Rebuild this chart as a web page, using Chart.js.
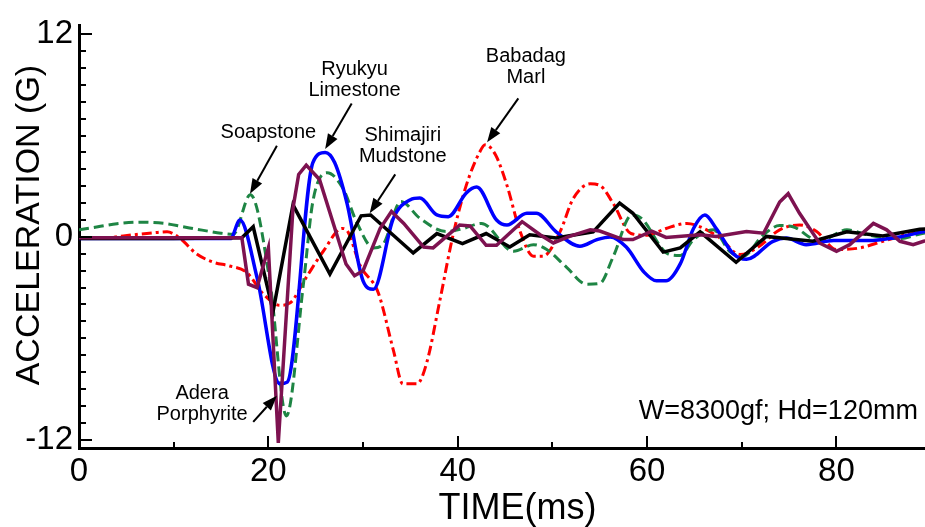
<!DOCTYPE html>
<html>
<head>
<meta charset="utf-8">
<script src="https://cdn.jsdelivr.net/npm/chart.js@4.4.0/dist/chart.umd.min.js"></script>
<style>
  html, body { margin: 0; padding: 0; background: #fff; }
</style>
</head>
<body>
<canvas id="accChart" width="925" height="527"></canvas>
<script>
// time (ms) / acceleration (G), one pair per rock
const mudstoneT = [0, 10, 17.2, 18.4, 20.5, 22.6, 26.5, 29.8, 30.8, 35.3, 37.8, 40.5, 43.0, 45.5, 47.6, 50.4, 54.3, 57.1, 58.5, 61.7, 63.5, 65.6, 69.4, 72.6, 74.7, 77.5, 81.1, 84.9, 88.8, 90];
const mudstoneA = [-0.1, -0.1, -0.05, 0.6, -4.4, 1.9, -2.2, 1.25, 1.3, -0.95, 0.2, -0.4, 0.2, -0.6, 0.13, -0.07, 0.3, 2.0, 1.4, -0.9, -0.65, 0.3, -1.5, 0.03, -0.1, -0.25, 0.3, 0.05, 0.45, 0.5];

const limestoneT = [0, 10, 16, 17, 18.8, 21.2, 22, 24.7, 26, 27, 28.3, 30, 31.1, 33.2, 35, 36, 37.8, 39, 40.9, 42, 44.1, 45.2, 47.3, 48.3, 50.4, 52.9, 54.7, 56.1, 57.8, 59.7, 61, 62, 63.5, 64.9, 66.1, 67.3, 69.1, 70.5, 73.3, 74.7, 76.8, 79.7, 83.2, 86.7, 89.1, 90];
const limestoneA = [-0.1, -0.1, -0.1, 1.0, -2.4, -8.7, -8.6, 4.4, 5.0, 4.4, 2.0, -2.6, -3.1, 1.1, 2.2, 2.3, 1.3, 1.2, 2.6, 2.95, 1.0, 0.7, 1.4, 1.4, 0.3, -0.55, -0.16, 0.0, -0.6, -2.1, -2.6, -2.6, -1.6, 0.5, 1.3, 0.5, -1.0, -1.33, -0.26, -0.07, -0.46, -0.22, -0.22, 0.0, 0.3, 0.4];

const soapstoneT = [0, 2, 4, 6.5, 9, 11, 13, 15, 16.3, 18.1, 20.2, 21.9, 23.7, 24.7, 26.2, 27.9, 29.3, 31.1, 32.1, 34, 36, 38.8, 40.6, 42.5, 45.9, 48, 49.4, 51.5, 53.6, 55, 56.4, 58.4, 59.4, 62.2, 63.5, 64.9, 67, 68.7, 70.1, 72.3, 74, 75.4, 78.2, 81.1, 83.2, 86.7, 89.2, 90];
const soapstoneA = [0.42, 0.6, 0.78, 0.87, 0.8, 0.6, 0.4, 0.22, 0.16, 2.5, -2.8, -10.6, -2.8, 2.1, 3.8, 2.85, 0.9, -0.65, -0.45, 2.1, 1.1, 0.32, 0.5, 0.8, -0.85, -0.46, -0.75, -1.8, -2.8, -2.75, -1.2, 1.3, 1.1, -1.0, -1.1, -0.16, 0.42, -0.85, -1.14, 0.13, 0.67, 0.6, -0.26, 0.42, 0.13, -0.1, 0.22, 0.25];

const marlT = [0, 3, 5.7, 8, 9.3, 10.7, 12.4, 14.2, 15.9, 17.7, 19.5, 21.2, 22.3, 24, 25.8, 27.8, 28.4, 29.7, 31.6, 33.2, 34.2, 35.7, 36.7, 38.1, 39.5, 40.9, 42.3, 42.9, 44, 45.2, 46.6, 48, 49, 50.8, 52.2, 54, 55, 56.4, 58.3, 60, 62, 64.2, 65.6, 67.7, 69.8, 71.6, 74, 76.1, 77.9, 80, 82.5, 84.9, 87.4, 89.2, 90];
const marlA = [-0.1, -0.05, 0.12, 0.25, 0.3, -0.1, -1.0, -1.5, -1.72, -2.1, -3.4, -4.05, -3.9, -2.4, -0.85, 0.5, 0.3, -1.7, -3.3, -6.7, -8.7, -8.7, -7.5, -3.8, 0.1, 3.05, 5.0, 5.45, 4.85, 3.05, 0.3, -1.14, -1.14, 0.3, 2.27, 3.14, 3.05, 2.0, 0.2, 0.1, 0.5, 0.8, 0.6, -0.07, -1.04, -0.65, 0.42, 0.71, 0.32, -0.75, -0.65, -0.26, 0.13, 0.3, 0.35];

const porphyriteT = [0, 17.2, 17.9, 18.8, 20, 21.05, 22.6, 23.2, 24, 25.4, 28.2, 29.1, 30, 31.8, 33, 34.3, 36.4, 37.4, 40.2, 41.3, 43, 44.1, 46.8, 48.7, 50.1, 51.8, 54, 55, 57.5, 58.5, 60.5, 62, 65.6, 67.3, 70.5, 72.3, 74, 74.9, 76.1, 78.2, 80, 81.4, 83.9, 85.3, 86.7, 88.1, 89.2, 90];
const porphyriteA = [-0.05, -0.05, -2.8, -3.0, -0.65, -12.2, 1.7, 3.7, 4.25, 3.4, -1.6, -2.3, -2.0, 0.5, 1.5, 0.8, -0.6, -0.65, 0.7, 0.65, -0.5, -0.5, 0.9, 0.13, -0.36, 0.03, 0.42, 0.35, -0.16, -0.16, 0.34, -0.03, 0.13, 0.03, 0.32, 0.22, 2.07, 2.56, 1.4, -0.36, -0.85, -0.46, 0.8, 0.42, -0.26, -0.46, -0.26, -0.2];

const xTicks = [0, 20, 40, 60, 80];
const yTicks = [-12, 0, 12];

// labels with arrows, in data units (ms, G)
const notes = [
  { lines: ['Soapstone'], t: 20.0, a: 6.2, from: [20.9, 5.4], to: [18.06, 2.55] },
  { lines: ['Ryukyu', 'Limestone'], t: 29.1, a: 9.9, from: [28.8, 7.9], to: [26.0, 5.2] },
  { lines: ['Shimajiri', 'Mudstone'], t: 34.2, a: 6.0, from: [33.4, 3.7], to: [30.7, 1.4] },
  { lines: ['Babadag', 'Marl'], t: 47.2, a: 10.7, from: [46.4, 8.2], to: [43.1, 5.6] },
  { lines: ['Adera', 'Porphyrite'], t: 13.0, a: -9.3, from: [18.4, -10.95], to: [20.9, -9.4] }
];
const caseNote = 'W=8300gf; Hd=120mm';
const xTitle = 'TIME(ms)';
const yTitle = 'ACCELERATION (G)';

const FONT = '"Liberation Sans", Arial, sans-serif';

function pts(ts, as) {
  return ts.map((t, i) => ({ x: t, y: as[i] }));
}

const decor = {
  id: 'decor',
  afterDraw(chart) {
    const { ctx, scales: { x, y } } = chart;
    ctx.save();
    ctx.strokeStyle = '#000';
    ctx.fillStyle = '#000';
    ctx.lineWidth = 2;
    // inward ticks
    for (let v = -12; v <= 12; v++) {
      const py = Math.round(y.getPixelForValue(v));
      const len = v % 12 === 0 ? 13 : 7;
      ctx.beginPath();
      ctx.moveTo(x.left, py);
      ctx.lineTo(x.left + len, py);
      ctx.stroke();
    }
    for (let v = 0; v <= 80; v += 10) {
      const px = Math.round(x.getPixelForValue(v));
      const len = v % 20 === 0 ? 12 : 6;
      ctx.beginPath();
      ctx.moveTo(px, y.bottom);
      ctx.lineTo(px, y.bottom - len);
      ctx.stroke();
    }

    // axis titles (the original sits a bit off the plot centre)
    ctx.textAlign = 'center';
    ctx.textBaseline = 'alphabetic';
    ctx.font = '36px ' + FONT;
    ctx.fillText(xTitle, x.getPixelForValue(46.3), 519);
    ctx.save();
    ctx.translate(39, y.getPixelForValue(0.7));
    ctx.rotate(-Math.PI / 2);
    ctx.font = '34px ' + FONT;
    ctx.fillText(yTitle, 0, 0);
    ctx.restore();

    // rock names and arrows
    ctx.font = '20px ' + FONT;
    ctx.textBaseline = 'middle';
    notes.forEach(n => {
      const cx = x.getPixelForValue(n.t);
      const cy = y.getPixelForValue(n.a);
      n.lines.forEach((s, i) => ctx.fillText(s, cx, cy + i * 21));

      const x1 = x.getPixelForValue(n.from[0]), y1 = y.getPixelForValue(n.from[1]);
      const x2 = x.getPixelForValue(n.to[0]), y2 = y.getPixelForValue(n.to[1]);
      const ang = Math.atan2(y2 - y1, x2 - x1);
      const head = 15, half = 5.5;
      ctx.beginPath();
      ctx.moveTo(x1, y1);
      ctx.lineTo(x2 - Math.cos(ang) * head, y2 - Math.sin(ang) * head);
      ctx.stroke();
      ctx.beginPath();
      ctx.moveTo(x2, y2);
      ctx.lineTo(x2 - Math.cos(ang) * head - Math.sin(ang) * half, y2 - Math.sin(ang) * head + Math.cos(ang) * half);
      ctx.lineTo(x2 - Math.cos(ang) * head + Math.sin(ang) * half, y2 - Math.sin(ang) * head - Math.cos(ang) * half);
      ctx.closePath();
      ctx.fill();
    });

    ctx.font = '27px ' + FONT;
    ctx.textAlign = 'right';
    ctx.fillText(caseNote, x.getPixelForValue(88.6), y.getPixelForValue(-10.35));
    ctx.restore();
  }
};

new Chart(document.getElementById('accChart'), {
  type: 'line',
  data: {
    datasets: [
      { label: 'Adera Porphyrite', data: pts(porphyriteT, porphyriteA), borderColor: '#7d1250', borderWidth: 3.5, tension: 0, order: 0 },
      { label: 'Shimajiri Mudstone', data: pts(mudstoneT, mudstoneA), borderColor: '#000000', borderWidth: 3.5, tension: 0, order: 1 },
      { label: 'Ryukyu Limestone', data: pts(limestoneT, limestoneA), borderColor: '#0000ff', borderWidth: 3.5, cubicInterpolationMode: 'monotone', order: 2 },
      { label: 'Soapstone', data: pts(soapstoneT, soapstoneA), borderColor: '#1e8544', borderWidth: 3, borderDash: [10, 5], cubicInterpolationMode: 'monotone', order: 3 },
      { label: 'Babadag Marl', data: pts(marlT, marlA), borderColor: '#ff0000', borderWidth: 3, borderDash: [10, 4, 3, 4], cubicInterpolationMode: 'monotone', order: 4 }
    ]
  },
  options: {
    responsive: false,
    animation: false,
    elements: { point: { radius: 0 } },
    layout: { padding: { top: 21, right: 0, left: 0, bottom: 0 } },
    plugins: { legend: { display: false }, tooltip: { enabled: false } },
    scales: {
      x: {
        type: 'linear',
        min: 0,
        max: 89.35,
        afterBuildTicks: s => { s.ticks = xTicks.map(v => ({ value: v })); },
        afterFit: s => { s.height = 79; },
        grid: { display: false, drawTicks: false },
        border: { display: true, color: '#000', width: 3 },
        ticks: { color: '#000', font: { family: FONT, size: 33 }, padding: 4, maxRotation: 0 },
        title: { display: false }
      },
      y: {
        min: -12.5,
        max: 12.5,
        afterBuildTicks: s => { s.ticks = yTicks.map(v => ({ value: v })); },
        afterFit: s => { s.width = 79; },
        grid: { display: false, drawTicks: false },
        border: { display: true, color: '#000', width: 3 },
        ticks: { color: '#000', font: { family: FONT, size: 33 }, padding: 6 },
        title: { display: false }
      }
    }
  },
  plugins: [decor]
});
</script>
</body>
</html>
